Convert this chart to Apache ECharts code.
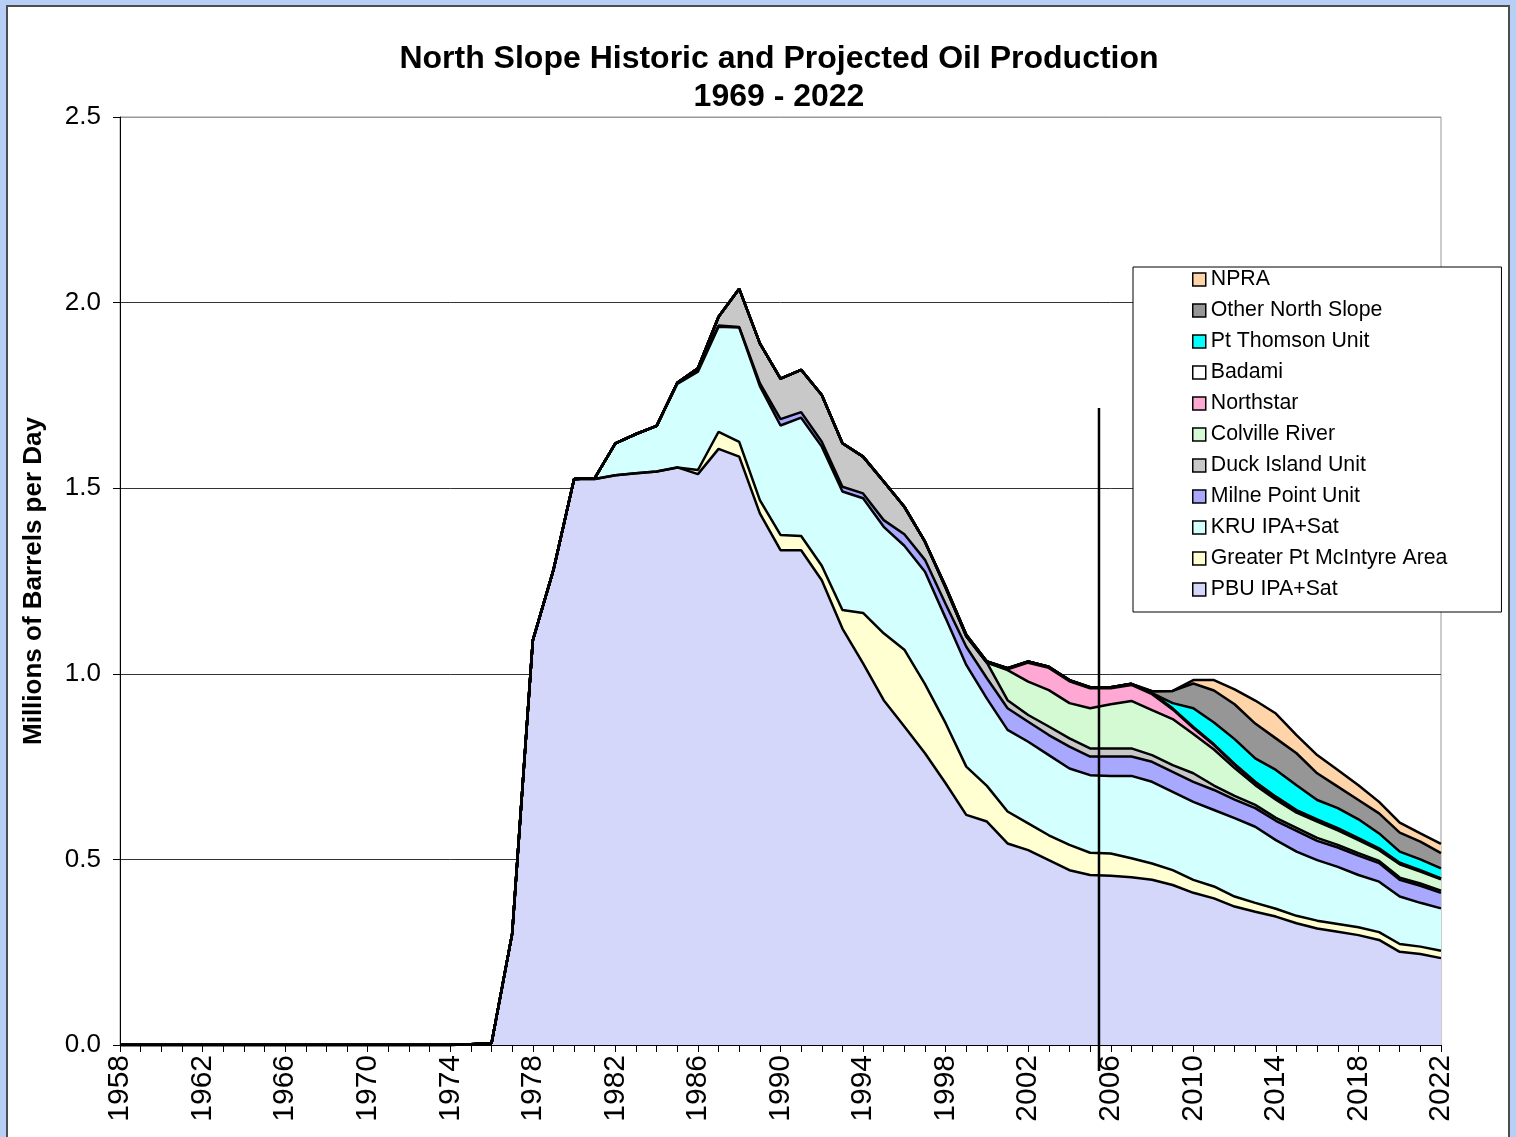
<!DOCTYPE html>
<html>
<head>
<meta charset="utf-8">
<script src="https://cdn.jsdelivr.net/npm/echarts@6/dist/echarts.min.js"></script>
<style>
  html, body { margin: 0; padding: 0; width: 1516px; height: 1137px; overflow: hidden; background: #b8cff5; }
  #frame { position: absolute; left: 6px; top: 5px; width: 1500px; height: 1200px; background: #fff; border: 2px solid #4d4d4d; box-sizing: content-box; }
  #main { position: absolute; left: 0; top: 0; width: 1516px; height: 1137px; }
</style>
</head>
<body>
<div id="frame"></div>
<div id="main"></div>
<script>
// ---- Categories (years) ----
const firstYear = 1958;
const lastYear = 2022;
const years = [];
for (let y = firstYear; y <= lastYear; y++) years.push(String(y));
const yTicks = [0, 0.5, 1.0, 1.5, 2.0, 2.5];

// ---- Series values, millions of barrels per day (each list starts at its start year; earlier years = 0) ----
const pbuStart = 1975;
const pbu = [0.002, 0.005, 0.30, 1.09, 1.28, 1.525, 1.525, 1.535, 1.54, 1.545, 1.556,
  1.538, 1.606, 1.585, 1.432, 1.333, 1.333, 1.252, 1.122, 1.028, 0.929,
  0.858, 0.786, 0.705, 0.620, 0.602, 0.543, 0.525, 0.498, 0.471, 0.458,
  0.456, 0.452, 0.445, 0.431, 0.410, 0.395, 0.373, 0.359, 0.346, 0.328,
  0.314, 0.305, 0.296, 0.283, 0.251, 0.245, 0.234];

const gpmaStart = 1986;
const gpma = [0.011, 0.046, 0.040, 0.036, 0.041, 0.038, 0.039, 0.050, 0.136, 0.180,
  0.207, 0.186, 0.162, 0.130, 0.096, 0.086, 0.072, 0.067, 0.068, 0.060,
  0.060, 0.051, 0.044, 0.040, 0.035, 0.032, 0.027, 0.024, 0.021, 0.020,
  0.021, 0.021, 0.021, 0.021, 0.021, 0.020, 0.020];

const kruStart = 1981;
const kru = [0.002, 0.086, 0.106, 0.123, 0.225, 0.265, 0.283, 0.308, 0.307, 0.295,
  0.319, 0.321, 0.319, 0.309, 0.287, 0.280, 0.303, 0.283, 0.274, 0.235,
  0.220, 0.220, 0.216, 0.206, 0.209, 0.209, 0.222, 0.220, 0.211, 0.210,
  0.206, 0.211, 0.205, 0.185, 0.173, 0.163, 0.154, 0.141, 0.136, 0.128,
  0.118, 0.114];

const milneStart = 1985;
const milne = [0.003, 0.006, 0.003, 0.001, 0.008, 0.017, 0.015, 0.013, 0.013, 0.013,
  0.018, 0.031, 0.032, 0.038, 0.049, 0.055, 0.058, 0.054, 0.054, 0.059,
  0.050, 0.052, 0.052, 0.054, 0.054, 0.054, 0.054, 0.050, 0.050, 0.052,
  0.056, 0.052, 0.052, 0.052, 0.050, 0.045, 0.046, 0.042];

const duckStart = 1986;
const duck = [0.003, 0.024, 0.103, 0.107, 0.109, 0.114, 0.126, 0.117, 0.099, 0.104,
  0.074, 0.049, 0.044, 0.028, 0.042, 0.022, 0.018, 0.023, 0.022, 0.022,
  0.022, 0.022, 0.018, 0.018, 0.023, 0.012, 0.010, 0.009, 0.008, 0.008,
  0.008, 0.007, 0.007, 0.006, 0.006, 0.006, 0.006];

const colvilleStart = 2001;
const colville = [0.081, 0.090, 0.098, 0.095, 0.108, 0.119, 0.128, 0.121, 0.124, 0.106,
  0.097, 0.075, 0.053, 0.049, 0.041, 0.044, 0.039, 0.035, 0.029, 0.036,
  0.032, 0.030];

const northstarStart = 2001;
const northstar = [0.002, 0.051, 0.060, 0.059, 0.054, 0.043, 0.043, 0.043, 0.026, 0.016,
  0.012, 0.009, 0.007, 0.006, 0.005, 0.004, 0.004, 0.003, 0.003, 0.002,
  0.002, 0.002];

const badamiStart = 1998;
const badami = [0.003, 0.004, 0.003, 0.003, 0.003, 0.003, 0.003, 0.003, 0.003, 0.003,
  0.003, 0.003, 0.003, 0.002, 0.002, 0.002, 0.002, 0.002, 0.002, 0.002,
  0.002, 0.002, 0.002, 0.002, 0.001];

const ptThomsonStart = 2009;
const ptThomson = [0.014, 0.050, 0.059, 0.067, 0.063, 0.072, 0.067, 0.052, 0.054, 0.051,
  0.040, 0.030, 0.029, 0.027];

const otherStart = 2008;
const otherNS = [0.005, 0.033, 0.067, 0.086, 0.094, 0.094, 0.085, 0.086, 0.072, 0.058,
  0.052, 0.054, 0.051, 0.048, 0.041];

const npraStart = 2010;
const npra = [0.009, 0.028, 0.040, 0.062, 0.067, 0.049, 0.049, 0.045, 0.040, 0.031,
  0.027, 0.022, 0.025];

// Vertical divider (historic | projected), in data units
const dividerYear = 2005.43;
const dividerTop = 1.716;
const dividerBottom = -0.07;

// ---- Build per-year tables ----
function toYears(start, arr) {
  return years.map(function (ys) {
    const y = Number(ys);
    return y < start ? 0 : arr[y - start];
  });
}

const FONT = 'Arial, "Liberation Sans", Helvetica, sans-serif';

const layers = [
  { name: 'PBU IPA+Sat', color: '#d4d6fa', data: toYears(pbuStart, pbu) },
  { name: 'Greater Pt McIntyre Area', color: '#ffffd2', data: toYears(gpmaStart, gpma) },
  { name: 'KRU IPA+Sat', color: '#d4ffff', data: toYears(kruStart, kru) },
  { name: 'Milne Point Unit', color: '#a8a8ff', data: toYears(milneStart, milne) },
  { name: 'Duck Island Unit', color: '#c8c8c8', data: toYears(duckStart, duck) },
  { name: 'Colville River', color: '#d4fad4', data: toYears(colvilleStart, colville) },
  { name: 'Northstar', color: '#ffa8d4', data: toYears(northstarStart, northstar) },
  { name: 'Badami', color: '#ffffff', data: toYears(badamiStart, badami) },
  { name: 'Pt Thomson Unit', color: '#00ffff', data: toYears(ptThomsonStart, ptThomson) },
  { name: 'Other North Slope', color: '#969696', data: toYears(otherStart, otherNS) },
  { name: 'NPRA', color: '#ffd4a8', data: toYears(npraStart, npra) }
];

const series = layers.map(function (l) {
  return {
    name: l.name,
    type: 'line',
    stack: 'total',
    data: l.data,
    symbol: 'none',
    showSymbol: false,
    smooth: false,
    itemStyle: { color: l.color, borderColor: '#000', borderWidth: 1.5 },
    lineStyle: { color: '#000', width: 2.5 },
    areaStyle: { color: l.color, opacity: 1 },
    emphasis: { disabled: true },
    silent: true,
    z: 2
  };
});

series.push({
  name: 'divider',
  type: 'line',
  xAxisIndex: 1,
  yAxisIndex: 0,
  data: [[dividerYear, dividerTop], [dividerYear, dividerBottom]],
  symbol: 'none',
  clip: false,
  lineStyle: { color: '#000', width: 2.5 },
  silent: true,
  z: 5
});

const chart = echarts.init(document.getElementById('main'), null, { renderer: 'canvas' });
chart.setOption({
  animation: false,
  textStyle: { fontFamily: FONT },
  title: {
    text: 'North Slope Historic and Projected Oil Production\n1969 - 2022',
    left: 774,
    top: 35,
    textAlign: 'center',
    textStyle: { fontFamily: FONT, fontSize: 32, fontWeight: 'bold', color: '#000', lineHeight: 38 }
  },
  grid: {
    left: 120, right: 75, top: 117, bottom: 92,
    show: true, borderColor: '#999', borderWidth: 1, backgroundColor: 'transparent'
  },
  legend: {
    data: layers.map(function (l) { return l.name; }).reverse(),
    orient: 'vertical',
    left: 1133,
    top: 267,
    padding: [2, 54, 12, 59],
    itemGap: 10,
    itemWidth: 13,
    itemHeight: 13,
    icon: 'rect',
    selectedMode: false,
    backgroundColor: '#fff',
    borderColor: '#000',
    borderWidth: 1,
    itemStyle: { borderColor: '#000', borderWidth: 1.5 },
    textStyle: { fontFamily: FONT, fontSize: 21.3, color: '#000', padding: [0, 0, 0, 0] },
    z: 10
  },
  xAxis: [{
    type: 'category',
    data: years,
    boundaryGap: false,
    axisLine: { show: true, lineStyle: { color: '#000', width: 1 } },
    axisTick: { show: true, interval: 0, length: 7, lineStyle: { color: '#000' } },
    axisLabel: { interval: 3, rotate: 90, fontSize: 30, color: '#000', margin: 10, fontFamily: FONT },
    splitLine: { show: false }
  }, {
    type: 'value',
    min: firstYear,
    max: lastYear,
    show: false,
    position: 'bottom'
  }],
  yAxis: {
    type: 'value',
    min: yTicks[0],
    max: yTicks[yTicks.length - 1],
    interval: 0.5,
    axisLine: { show: true, lineStyle: { color: '#000', width: 1 } },
    axisTick: { show: true, length: 7, lineStyle: { color: '#000' } },
    axisLabel: { fontSize: 26, color: '#000', margin: 19, fontFamily: FONT,
      formatter: function (v) { return v.toFixed(1); } },
    splitLine: { show: true, lineStyle: { color: ['#000', '#333', '#333', '#333', '#333', '#999'], width: 1 } },
    name: 'Millions of Barrels per Day',
    nameLocation: 'middle',
    nameGap: 73,
    nameTextStyle: { fontFamily: FONT, fontSize: 26, fontWeight: 'bold', color: '#000' }
  },
  series: series
});
</script>
</body>
</html>
